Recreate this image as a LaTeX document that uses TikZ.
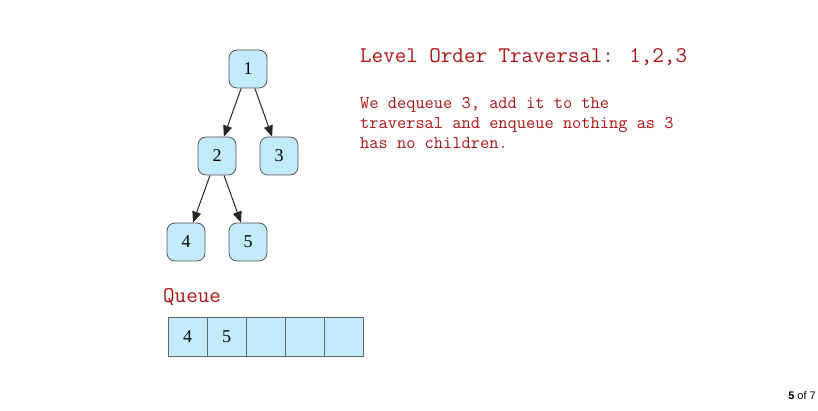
\documentclass[tikz,border=0pt]{standalone}
\usepackage{fontspec}
\setmainfont{Liberation Serif}
\newfontfamily\sansfont{Liberation Sans}
\usetikzlibrary{arrows.meta}
\definecolor{nodefill}{RGB}{194,236,252}
\definecolor{nodeedge}{RGB}{85,85,85}
\definecolor{textred}{RGB}{170,20,20}
\tikzset{
  treenode/.style={draw=nodeedge, fill=nodefill, rounded corners=8pt, minimum width=38pt, minimum height=38pt, inner sep=0pt, font=\fontsize{18}{18}\selectfont, line width=0.8pt},
  qcell/.style={draw=gray!80!black, fill=nodefill, minimum width=39pt, minimum height=39pt, inner sep=0pt, font=\fontsize{18}{18}\selectfont, line width=1pt},
  edge/.style={draw=black!85, line width=1pt, -{Triangle[length=11pt,width=9pt]}},
  redtext/.style={text=textred, anchor=west, inner sep=0pt}
}
\begin{document}
\begin{tikzpicture}[x=1pt,y=-1pt]
\useasboundingbox (0,0) rectangle (818,411);
\node[treenode] (n1) at (248,69) {1};
\node[treenode] (n2) at (217,156) {2};
\node[treenode] (n3) at (279,156) {3};
\node[treenode] (n4) at (186,242) {4};
\node[treenode] (n5) at (248,242) {5};
\draw[edge] (n1) -- (n2);
\draw[edge] (n1) -- (n3);
\draw[edge] (n2) -- (n4);
\draw[edge] (n2) -- (n5);
\node[redtext, font=\ttfamily\fontsize{22.4}{22}\selectfont] (title) at (360,57) {Level Order Traversal: 1,2,3};
\node[redtext, font=\ttfamily\fontsize{17.9}{20}\selectfont, align=left] (desc) at (360,123) {We dequeue 3, add it to the\\traversal and enqueue nothing as 3\\has no children.};
\node[redtext, font=\ttfamily\fontsize{22.4}{22}\selectfont] (qlabel) at (163,297) {Queue};
\node[qcell] (q1) at (187.5,336.5) {4};
\node[qcell] (q2) at (226.5,336.5) {5};
\node[qcell] (q3) at (265.5,336.5) {};
\node[qcell] (q4) at (304.5,336.5) {};
\node[qcell] (q5) at (343.5,336.5) {};
\node[anchor=east, inner sep=0pt, font=\sansfont\fontsize{11}{11}\selectfont] (page) at (816,396) {\textbf{5} of 7};
\end{tikzpicture}
\end{document}
